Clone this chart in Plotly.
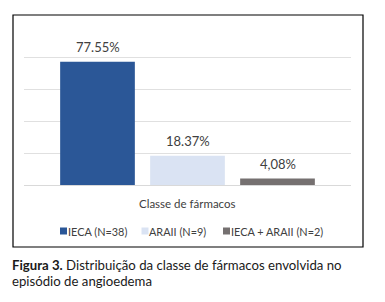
import plotly.graph_objects as go

category = ["Classe de fármacos"]
series_names = ["IECA (N=38)", "ARAII (N=9)", "IECA + ARAII (N=2)"]
values = [77.55, 18.37, 4.08]
labels = ["77.55%", "18.37%", "4,08%"]
colors = ["#2B5797", "#DAE3F3", "#757070"]

# page body has an 8px margin: work in reference pixel coords minus 8
OFF = 8
W, H = 385 - 2 * OFF, 302 - 2 * OFF
ml, mr, mt, mb = 24 - OFF, (W + OFF) - 351, 26 - OFF, (H + OFF) - 185
pw, ph = W - ml - mr, H - mt - mb

def px(x):
    return (x - OFF - ml) / pw

def py(y):
    return (H - mb - (y - OFF)) / ph

FONT = "Lato"
SLOT = 90  # pixel spacing between grouped bars

fig = go.Figure()
annotations = []
n = len(values)
for i, (name, v, lab, c) in enumerate(zip(series_names, values, labels, colors)):
    fig.add_trace(go.Bar(
        x=category, y=[v], name=name, marker_color=c, marker_line_width=0,
        showlegend=False,
    ))
    annotations.append(dict(
        text=lab, xref="x", yref="y", x=category[0], y=v,
        xshift=(i - (n - 1) / 2) * SLOT, yshift=14.5,
        xanchor="center", yanchor="middle", showarrow=False,
        font=dict(family=FONT, size=13, color="#404040")))

shapes = [dict(type="rect", xref="paper", yref="paper",
               x0=px(13), x1=px(363), y0=py(247), y1=py(15),
               line=dict(color="#000000", width=1.2), fillcolor="rgba(0,0,0,0)")]
annotations.append(dict(text="Classe de fármacos", xref="paper", yref="paper",
                        x=px(187), y=py(203), xanchor="center", yanchor="middle",
                        showarrow=False, font=dict(family=FONT, size=11.5, color="#404040")))

leg_sq = [60, 141.5, 223]
for xs, name, c in zip(leg_sq, series_names, colors):
    shapes.append(dict(type="rect", xref="paper", yref="paper",
                       x0=px(xs), x1=px(xs + 7), y0=py(234.5), y1=py(227.5),
                       line=dict(width=0), fillcolor=c))
    annotations.append(dict(text=name, xref="paper", yref="paper",
                            x=px(xs + 5.5), y=py(231), xanchor="left", yanchor="middle",
                            showarrow=False,
                            font=dict(family=FONT, size=10.9, color="#404040")))

caption_lines = ["<b>Figura 3.</b> Distribuição da classe de fármacos envolvida no",
                 "episódio de angioedema"]
for k, line in enumerate(caption_lines):
    annotations.append(dict(
        text=line, xref="paper", yref="paper", x=px(10), y=py(265 + 16 * k),
        xanchor="left", yanchor="middle", align="left", showarrow=False,
        font=dict(family=FONT, size=13.2, color="#1a1a1a")))

fig.update_layout(
    width=W, height=H, margin=dict(l=ml, r=mr, t=mt, b=mb),
    paper_bgcolor="white", plot_bgcolor="white",
    barmode="group", bargap=1 - n * SLOT / pw, bargroupgap=0.17,
    xaxis=dict(showticklabels=False, showline=False, showgrid=False, zeroline=False),
    yaxis=dict(range=[0, 100], dtick=20, showticklabels=False, showgrid=True,
               gridcolor="#E0E0E0", gridwidth=1, zeroline=True,
               zerolinecolor="#D9D9D9", zerolinewidth=1),
    shapes=shapes, annotations=annotations,
)

fig.write_html("out.html")
